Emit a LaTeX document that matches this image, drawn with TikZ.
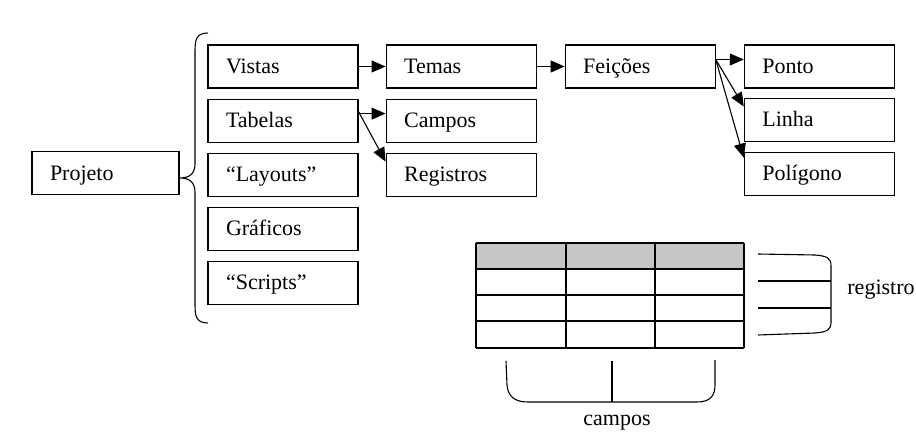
\documentclass[tikz,border=0pt]{standalone}
\usepackage{fontspec}
\setmainfont{Liberation Serif}
\usetikzlibrary{positioning,arrows.meta}

\begin{document}
\begin{tikzpicture}[
  x=1pt, y=-1pt,
  node distance=10pt and 27pt,
  box/.style={draw, line width=1.1pt, text width=114pt, inner xsep=18pt, text height=17pt, text depth=3pt, minimum height=43pt, align=left, font=\fontsize{22}{26}\selectfont},
  lbl/.style={inner sep=0pt, font=\fontsize{22}{26}\selectfont},
  arrow/.style={-{Triangle[length=14pt,width=12pt]}, line width=1.1pt},
  thin line/.style={line width=1.1pt},
]
  \useasboundingbox (0,0) rectangle (916,433);

  \node[box, text width=111pt] (projeto) at (105.5,173) {Projeto};

  \node[box] (vistas) at (283,66.5) {Vistas};
  \node[box, below=of vistas] (tabelas) {Tabelas};
  \node[box, below=of tabelas] (layouts) {“Layouts”};
  \node[box, below=of layouts] (graficos) {Gráficos};
  \node[box, below=of graficos] (scripts) {“Scripts”};

  \node[box, right=of vistas] (temas) {Temas};
  \node[box, below=of temas] (campos) {Campos};
  \node[box, below=of campos] (registros) {Registros};

  \node[box, right=28pt of temas] (feicoes) {Feições};

  \node[box, right=28pt of feicoes] (ponto) {Ponto};
  \node[box, below=9pt of ponto] (linha) {Linha};
  \node[box, below=of linha] (poligono) {Polígono};

  \draw[thin line] (208,33) .. controls (196,33) and (195,40) .. (195,52) -- (195,164)
    .. controls (195,174) and (189,178) .. (180,178)
    .. controls (189,178) and (195,182) .. (195,192) -- (195,304)
    .. controls (195,316) and (196,323) .. (208,323);

  \draw[arrow] (vistas) -- (temas);
  \draw[arrow] (temas) -- (feicoes);
  \draw[arrow] ([yshift=7pt]tabelas.east) -- ([yshift=7pt]campos.west);
  \draw[arrow] ([yshift=9pt]tabelas.east) -- ([yshift=-9pt]registros.north west);

  \coordinate (fsplit) at ([yshift=7pt]feicoes.east);
  \draw[arrow] (fsplit) -- (fsplit -| ponto.west);
  \draw[arrow] (fsplit) -- ([yshift=-9pt]linha.north west);
  \draw[arrow] (fsplit) -- ([yshift=-6pt]poligono.north west);

  \fill[gray!45] (476,243) rectangle (744,269);
  \foreach \y in {243,269,295,321,348}
    \draw[thin line] (476,\y) -- (744,\y);
  \foreach \x in {476,566,655,744}
    \draw[thin line] (\x,243) -- (\x,348);

  \draw[thin line] (758,254) -- (815,255) .. controls (827,256) and (831,258) .. (831,266)
    -- (831,322) .. controls (831,330) and (827,332) .. (815,333) -- (758,335);
  \draw[thin line] (758,281) -- (831,281);
  \draw[thin line] (758,308) -- (831,308);
  \node[lbl] (registro) at (881,290) {registro};

  \draw[thin line] (506,361) -- (507,385) .. controls (508,396) and (514,402) .. (528,402)
    -- (697,402) .. controls (710,402) and (715,396) .. (715,385) -- (715,360);
  \draw[thin line] (612,361) -- (612,402);
  \node[lbl] (campos) at (617,423) {campos};
\end{tikzpicture}
\end{document}
